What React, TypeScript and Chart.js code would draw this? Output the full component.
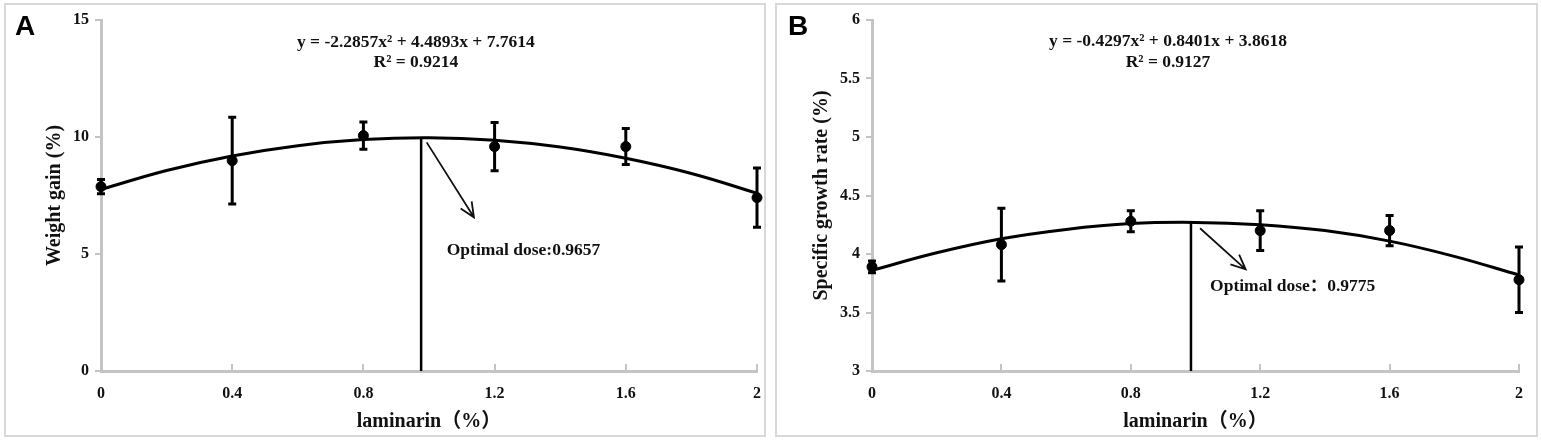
import React, { useEffect, useRef } from 'react';
import { Chart, registerables } from 'chart.js';
Chart.register(...registerables);

// laminarin doses (%)
const doses = [0, 0.4, 0.8, 1.2, 1.6, 2];
const xTickValues = [0, 0.4, 0.8, 1.2, 1.6, 2];
const xTickLabels = ['0', '0.4', '0.8', '1.2', '1.6', '2'];

// panel A - weight gain
const wgMean = [7.88, 8.99, 10.06, 9.59, 9.59, 7.41];
const wgSd = [0.3, 1.85, 0.58, 1.03, 0.77, 1.27];
const wgTicks = [0, 5, 10, 15];

// panel B - specific growth rate
const sgrMean = [3.89, 4.08, 4.28, 4.2, 4.2, 3.78];
const sgrSd = [0.05, 0.31, 0.09, 0.17, 0.13, 0.28];
const sgrTicks = [3, 3.5, 4, 4.5, 5, 5.5, 6];

// trend lines
const fitX = [0, 0.2, 0.4, 0.6, 0.8, 1, 1.2, 1.4, 1.6, 1.8, 2];
const wgFit = [7.76, 8.57, 9.19, 9.63, 9.89, 9.97, 9.86, 9.57, 9.09, 8.44, 7.6];
const sgrFit = [3.86, 4.01, 4.13, 4.21, 4.26, 4.27, 4.25, 4.2, 4.11, 3.98, 3.82];

// optimal dose drop line [x, top]
const wgOptimal = [0.976, 9.96];
const sgrOptimal = [0.986, 4.27];

const SERIF = '"Liberation Serif", "Times New Roman", "Noto Sans CJK SC", serif';
const AXIS = '#c4c4c4';

type Panel = {
  letter: string;
  letterX: number;
  mean: number[];
  sd: number[];
  fit: number[];
  optimal: number[];
  yTicks: number[];
  yTitle: string;
  equation: string;
  r2: string;
  eqPos: number[];
  r2Pos: number[];
  doseText: string;
  dosePos: number[];
  arrow: number[];
  pad: { left: number; top: number; right: number; bottom: number };
  yWidth: number;
};

const panels: Panel[] = [
  {
    letter: 'A',
    letterX: 15,
    mean: wgMean,
    sd: wgSd,
    fit: wgFit,
    optimal: wgOptimal,
    yTicks: wgTicks,
    yTitle: 'Weight gain (%)',
    equation: 'y = -2.2857x² + 4.4893x + 7.7614',
    r2: 'R² = 0.9214',
    eqPos: [0.96, 14.02],
    r2Pos: [0.96, 13.2],
    doseText: 'Optimal dose:0.9657',
    dosePos: [1.054, 5.17],
    arrow: [0.993, 9.77, 1.137, 6.57],
    pad: { left: 43, top: 20, right: 13, bottom: 6 },
    yWidth: 58,
  },
  {
    letter: 'B',
    letterX: 18,
    mean: sgrMean,
    sd: sgrSd,
    fit: sgrFit,
    optimal: sgrOptimal,
    yTicks: sgrTicks,
    yTitle: 'Specific growth rate (%)',
    equation: 'y = -0.4297x² + 0.8401x + 3.8618',
    r2: 'R² = 0.9127',
    eqPos: [0.915, 5.815],
    r2Pos: [0.915, 5.64],
    doseText: 'Optimal dose：0.9775',
    dosePos: [1.045, 3.72],
    arrow: [1.014, 4.22, 1.155, 3.869],
    pad: { left: 40, top: 20, right: 22, bottom: 6 },
    yWidth: 62,
  },
];

const overlay = (p: Panel) => ({
  id: 'overlay' + p.letter,
  beforeDatasetsDraw(chart: any) {
    const { ctx, scales } = chart;
    const xs = scales.x;
    const ys = scales.y;
    ctx.save();
    ctx.strokeStyle = '#000';
    ctx.lineWidth = 3;
    doses.forEach((d, i) => {
      const x = xs.getPixelForValue(d);
      const top = ys.getPixelForValue(p.mean[i] + p.sd[i]);
      const bot = ys.getPixelForValue(p.mean[i] - p.sd[i]);
      ctx.beginPath();
      ctx.moveTo(x, top);
      ctx.lineTo(x, bot);
      ctx.moveTo(x - 4, top);
      ctx.lineTo(x + 4, top);
      ctx.moveTo(x - 4, bot);
      ctx.lineTo(x + 4, bot);
      ctx.stroke();
    });
    ctx.restore();
  },
  afterDraw(chart: any) {
    const { ctx, scales } = chart;
    const xs = scales.x;
    const ys = scales.y;
    ctx.save();

    // arrow
    const x1 = xs.getPixelForValue(p.arrow[0]);
    const y1 = ys.getPixelForValue(p.arrow[1]);
    const x2 = xs.getPixelForValue(p.arrow[2]);
    const y2 = ys.getPixelForValue(p.arrow[3]);
    const ang = Math.atan2(y2 - y1, x2 - x1);
    ctx.strokeStyle = '#111';
    ctx.lineWidth = 1.8;
    ctx.beginPath();
    ctx.moveTo(x1, y1);
    ctx.lineTo(x2, y2);
    ctx.moveTo(x2 - 16 * Math.cos(ang - 0.42), y2 - 16 * Math.sin(ang - 0.42));
    ctx.lineTo(x2, y2);
    ctx.lineTo(x2 - 16 * Math.cos(ang + 0.42), y2 - 16 * Math.sin(ang + 0.42));
    ctx.stroke();

    // texts
    ctx.fillStyle = '#111';
    ctx.font = 'bold 17.5px ' + SERIF;
    ctx.textBaseline = 'middle';
    ctx.textAlign = 'center';
    ctx.fillText(p.equation, xs.getPixelForValue(p.eqPos[0]), ys.getPixelForValue(p.eqPos[1]));
    ctx.fillText(p.r2, xs.getPixelForValue(p.r2Pos[0]), ys.getPixelForValue(p.r2Pos[1]));
    ctx.textAlign = 'left';
    ctx.fillText(p.doseText, xs.getPixelForValue(p.dosePos[0]), ys.getPixelForValue(p.dosePos[1]));

    // panel letter
    ctx.fillStyle = '#000';
    ctx.font = 'bold 28px "Liberation Sans", Arial, sans-serif';
    ctx.textBaseline = 'alphabetic';
    ctx.fillText(p.letter, p.letterX, 35);
    ctx.restore();
  },
});

const ChartPanel = ({ panel, width }: { panel: Panel; width: number }) => {
  const canvasRef = useRef<HTMLCanvasElement | null>(null);
  const chartRef = useRef<Chart | null>(null);

  useEffect(() => {
    if (!canvasRef.current) return;
    if (chartRef.current) chartRef.current.destroy();

    const p = panel;
    chartRef.current = new Chart(canvasRef.current, {
      type: 'scatter',
      data: {
        datasets: [
          {
            type: 'line',
            data: fitX.map((x, i) => ({ x, y: p.fit[i] })),
            borderColor: '#000',
            borderWidth: 3,
            tension: 0.4,
            pointRadius: 0,
            fill: false,
            clip: false,
          } as any,
          {
            type: 'line',
            data: [
              { x: p.optimal[0], y: p.yTicks[0] },
              { x: p.optimal[0], y: p.optimal[1] },
            ],
            borderColor: '#000',
            borderWidth: 2.5,
            pointRadius: 0,
            fill: false,
            clip: false,
          } as any,
          {
            data: doses.map((x, i) => ({ x, y: p.mean[i] })),
            backgroundColor: '#000',
            borderColor: '#000',
            pointRadius: 5,
            pointHoverRadius: 5,
            clip: false,
          } as any,
        ],
      },
      options: {
        animation: false,
        responsive: false,
        events: [],
        layout: { padding: p.pad },
        plugins: { legend: { display: false }, tooltip: { enabled: false } },
        scales: {
          x: {
            type: 'linear',
            min: 0,
            max: 2,
            afterBuildTicks: (s: any) => {
              s.ticks = xTickValues.map((v) => ({ value: v }));
            },
            afterFit: (s: any) => {
              s.height = 63;
              s.paddingLeft = 0;
              s.paddingRight = 0;
            },
            grid: { drawOnChartArea: false, drawTicks: true, tickLength: -7, color: AXIS, lineWidth: 2 },
            border: { display: true, color: AXIS, width: 3 },
            ticks: {
              padding: 20,
              maxRotation: 0,
              autoSkip: false,
              color: '#111',
              font: { family: SERIF, size: 16, weight: 'bold' },
              callback: (_v: any, i: number) => xTickLabels[i],
            },
            title: {
              display: true,
              text: 'laminarin（%）',
              color: '#111',
              padding: { top: 0, bottom: 0 },
              font: { family: SERIF, size: 20, weight: 'bold' },
            },
          },
          y: {
            type: 'linear',
            min: p.yTicks[0],
            max: p.yTicks[p.yTicks.length - 1],
            afterBuildTicks: (s: any) => {
              s.ticks = p.yTicks.map((v) => ({ value: v }));
            },
            afterFit: (s: any) => {
              s.width = p.yWidth;
              s.paddingTop = 0;
              s.paddingBottom = 0;
            },
            grid: { drawOnChartArea: false, drawTicks: true, tickLength: 6, color: AXIS, lineWidth: 2 },
            border: { display: true, color: AXIS, width: 3 },
            ticks: {
              padding: 6,
              color: '#111',
              font: { family: SERIF, size: 16, weight: 'bold' },
              callback: (v: any) => String(v),
            },
            title: {
              display: true,
              text: p.yTitle,
              color: '#111',
              padding: { top: 0, bottom: 0 },
              font: { family: SERIF, size: 20, weight: 'bold' },
            },
          },
        },
      } as any,
      plugins: [overlay(p)],
    });

    return () => {
      if (chartRef.current) {
        chartRef.current.destroy();
        chartRef.current = null;
      }
    };
  }, [panel]);

  return <canvas ref={canvasRef} width={width} height={440} style={{ display: 'block' }} />;
};

export default function App() {
  const box: React.CSSProperties = {
    position: 'absolute',
    top: 3,
    height: 434,
    border: '2px solid #d8d8d8',
    boxSizing: 'border-box',
    background: '#fff',
  };
  return (
    <div style={{ position: 'absolute', left: 0, top: 0, width: 1541, height: 440, background: '#fff' }}>
      <div style={{ ...box, left: 4, width: 762 }} />
      <div style={{ ...box, left: 775, width: 763 }} />
      <div style={{ position: 'absolute', left: 0, top: 0 }}>
        <ChartPanel panel={panels[0]} width={770} />
      </div>
      <div style={{ position: 'absolute', left: 770, top: 0 }}>
        <ChartPanel panel={panels[1]} width={771} />
      </div>
    </div>
  );
}
